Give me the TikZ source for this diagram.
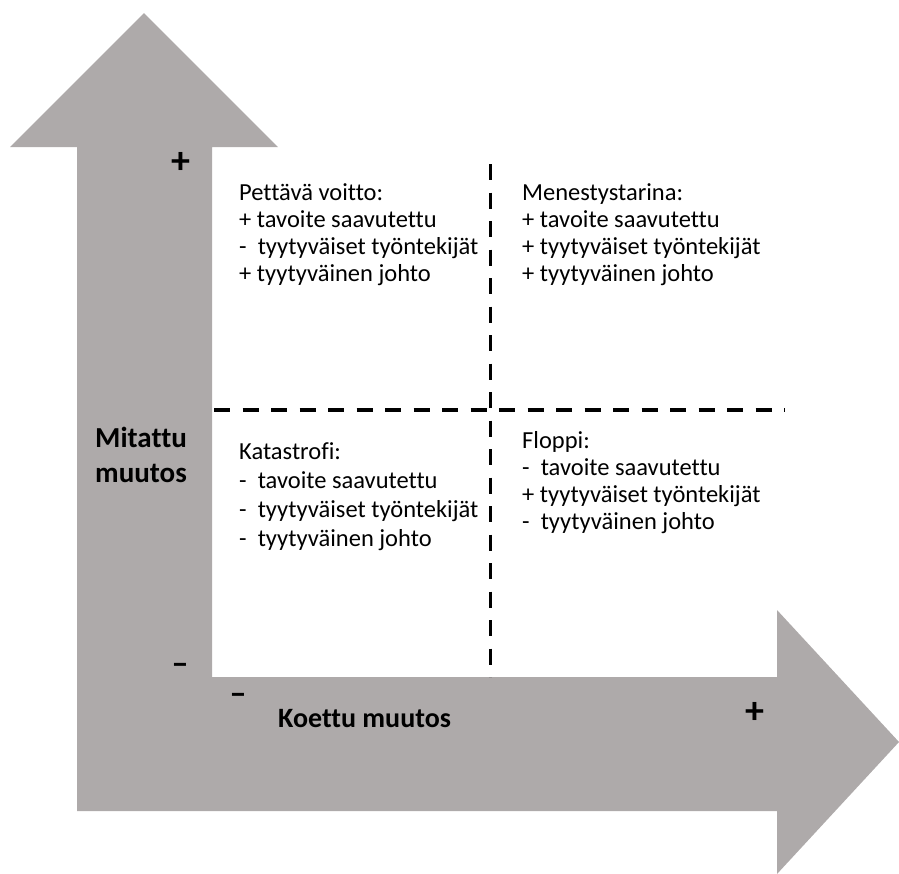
\documentclass[tikz,border=0pt]{standalone}
\usepackage{fontspec}
\setmainfont{Carlito}[Ligatures=NoCommon,Contextuals=NoAlternate]
\definecolor{axisgray}{HTML}{AEAAAA}
\begin{document}
\begin{tikzpicture}[x=1pt,y=-1pt,
  body/.style={anchor=north west,inner sep=0pt,align=left,font=\fontsize{24.5}{27}\selectfont},
  widebody/.style={body,font=\fontsize{24.5}{29}\selectfont},
  axlabel/.style={inner sep=0pt,font=\fontsize{28}{34}\selectfont\bfseries},
  sign/.style={inner sep=0pt,font=\fontsize{34}{34}\selectfont\bfseries},
  bigsign/.style={inner sep=0pt,font=\fontsize{38}{38}\selectfont\bfseries},
  divider/.style={line width=3.5pt,dash pattern=on 16pt off 12.5pt}]
\useasboundingbox (0,0) rectangle (899,873);
\fill[axisgray] (144,13) -- (278,147) -- (212,147) -- (212,677) -- (777,677) -- (777,610)
  -- (899,742) -- (777,874) -- (777,811) -- (77,811) -- (77,147) -- (10,147) -- cycle;
\coordinate (vtop) at (490.5,164);
\coordinate (vbot) at (490.5,677);
\coordinate (hleft) at (214,410);
\coordinate (hright) at (785,410);
\draw[divider] (vtop) -- (vbot);
\draw[divider] (hleft) -- (hright);
\node[body] (q1) at (239,183) {Pettävä voitto:\\+ tavoite saavutettu\\-\ \ tyytyväiset työntekijät\\+ tyytyväinen johto};
\node[body] (q2) at (522,183) {Menestystarina:\\+ tavoite saavutettu\\+ tyytyväiset työntekijät\\+ tyytyväinen johto};
\node[widebody] (q3) at (239,442) {Katastrofi:\\-\ \ tavoite saavutettu\\-\ \ tyytyväiset työntekijät\\-\ \ tyytyväinen johto};
\node[body] (q4) at (522,431) {Floppi:\\-\ \ tavoite saavutettu\\+ tyytyväiset työntekijät\\-\ \ tyytyväinen johto};
\node[axlabel,align=left,anchor=west,font=\fontsize{29}{35}\selectfont\bfseries] (ylab) at (95,455) {Mitattu\\muutos};
\node[axlabel,anchor=west] (xlab) at (278,719) {Koettu muutos};
\node[bigsign] (yplus) at (181,163) {+};
\node[sign] (yminus) at (180,669) {–};
\node[sign] (xminus) at (238,699) {–};
\node[bigsign] (xplus) at (755,713) {+};
\end{tikzpicture}
\end{document}
